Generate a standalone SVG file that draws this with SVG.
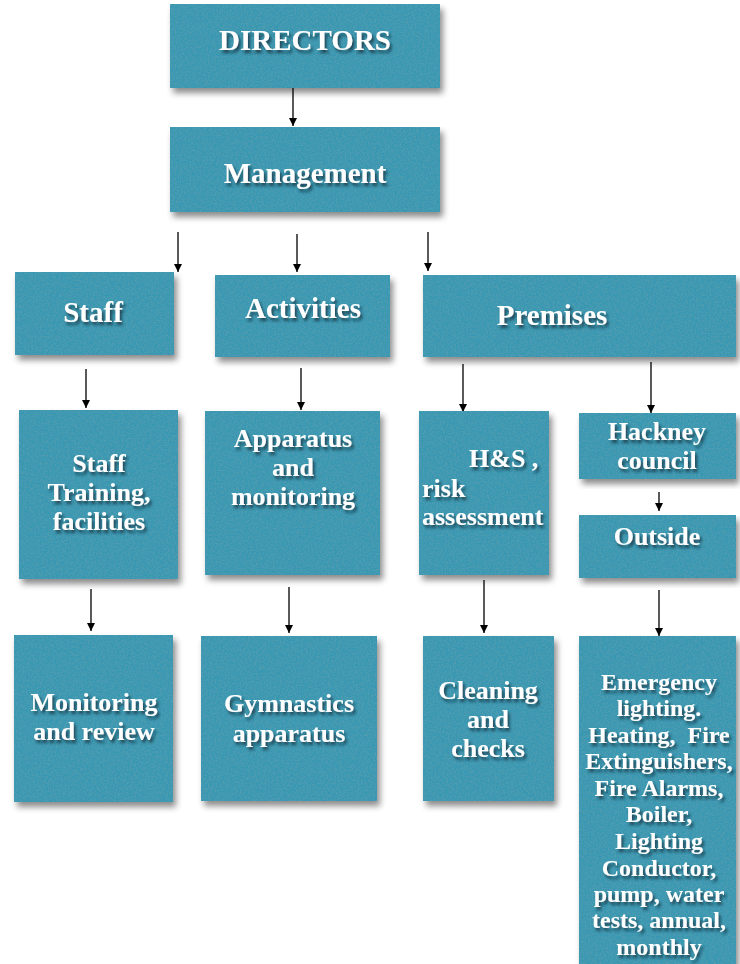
<svg xmlns="http://www.w3.org/2000/svg" width="740" height="964" viewBox="0 0 740 964">
<defs>
<style>
.box{fill:#3998b3;filter:url(#tex);}
.t{font-family:"Liberation Serif","Times New Roman",serif;font-weight:bold;fill:#ffffff;text-anchor:middle;filter:url(#ts);}
.big{font-size:29px;}
.mid{font-size:26px;}
.sm{font-size:24px;}
.st{text-anchor:start;}
.c{stroke:#000;stroke-width:1.3;fill:none;marker-end:url(#ah);}
</style>
<marker id="ah" viewBox="0 0 10 10" refX="10" refY="5" markerWidth="8" markerHeight="8" markerUnits="userSpaceOnUse" orient="auto">
<path d="M0,0 L10,5 L0,10 z" fill="#000"/>
</marker>
<filter id="tex" x="-5%" y="-5%" width="115%" height="120%">
<feTurbulence type="fractalNoise" baseFrequency="0.6" numOctaves="3" seed="4" result="n"/>
<feColorMatrix in="n" type="matrix" values="0 0 0 0 0.08  0 0 0 0 0.33  0 0 0 0 0.43  3.2 0 0 0 -1.25" result="dk"/>
<feComposite in="dk" in2="SourceGraphic" operator="in" result="dk2"/>
<feGaussianBlur in="SourceAlpha" stdDeviation="3" result="b"/>
<feOffset in="b" dx="3" dy="5" result="bo"/>
<feFlood flood-color="#000" flood-opacity="0.45"/>
<feComposite in2="bo" operator="in" result="sh"/>
<feMerge><feMergeNode in="sh"/><feMergeNode in="SourceGraphic"/><feMergeNode in="dk2"/></feMerge>
</filter>
<filter id="ts" x="-10%" y="-30%" width="130%" height="170%">
<feDropShadow dx="2" dy="3" stdDeviation="1.6" flood-color="#0b2a35" flood-opacity="0.75"/>
</filter>
</defs>

<g id="connectors">
<line class="c" x1="293" y1="88" x2="293" y2="126"/>
<line class="c" x1="178" y1="232" x2="178" y2="272"/>
<line class="c" x1="297" y1="234" x2="297" y2="272"/>
<line class="c" x1="428" y1="232" x2="428" y2="271"/>
<line class="c" x1="86" y1="369" x2="86" y2="408"/>
<line class="c" x1="301" y1="368" x2="301" y2="410"/>
<line class="c" x1="463" y1="364" x2="463" y2="412"/>
<line class="c" x1="651" y1="362" x2="651" y2="413"/>
<line class="c" x1="659" y1="492" x2="659" y2="511"/>
<line class="c" x1="91" y1="589" x2="91" y2="631"/>
<line class="c" x1="289" y1="587" x2="289" y2="633"/>
<line class="c" x1="484" y1="580" x2="484" y2="633"/>
<line class="c" x1="659" y1="590" x2="659" y2="636"/>
</g>

<g id="directors">
<rect class="box" x="170" y="4" width="270" height="84"/>
<text class="t big" x="305" y="50">DIRECTORS</text>
</g>
<g id="management">
<rect class="box" x="170" y="127" width="270" height="85"/>
<text class="t big" x="305" y="183">Management</text>
</g>
<g id="staff">
<rect class="box" x="15" y="272" width="159" height="83"/>
<text class="t big" x="93" y="322">Staff</text>
</g>
<g id="activities">
<rect class="box" x="215" y="275" width="175" height="82"/>
<text class="t big" x="303" y="318">Activities</text>
</g>
<g id="premises">
<rect class="box" x="423" y="275" width="313" height="82"/>
<text class="t big" x="552" y="325">Premises</text>
</g>
<g id="staff-training">
<rect class="box" x="19" y="410" width="159" height="169"/>
<text class="t mid" x="99" y="472">Staff</text>
<text class="t mid" x="99" y="501">Training,</text>
<text class="t mid" x="99" y="530">facilities</text>
</g>
<g id="apparatus">
<rect class="box" x="205" y="411" width="175" height="164"/>
<text class="t mid" x="293" y="447">Apparatus</text>
<text class="t mid" x="293" y="476">and</text>
<text class="t mid" x="293" y="505">monitoring</text>
</g>
<g id="hs">
<rect class="box" x="419" y="411" width="130" height="164"/>
<text class="t mid st" x="469" y="467">H&amp;S ,</text>
<text class="t mid st" x="422" y="497">risk</text>
<text class="t mid st" x="422" y="525">assessment</text>
</g>
<g id="hackney">
<rect class="box" x="579" y="413" width="157" height="66"/>
<text class="t mid" x="657" y="440">Hackney</text>
<text class="t mid" x="657" y="469">council</text>
</g>
<g id="outside">
<rect class="box" x="579" y="515" width="157" height="63"/>
<text class="t mid" x="657" y="545">Outside</text>
</g>
<g id="monitoring">
<rect class="box" x="14" y="635" width="159" height="167"/>
<text class="t mid" x="94" y="711">Monitoring</text>
<text class="t mid" x="94" y="740">and review</text>
</g>
<g id="gymnastics">
<rect class="box" x="201" y="636" width="176" height="165"/>
<text class="t mid" x="289" y="712">Gymnastics</text>
<text class="t mid" x="289" y="742">apparatus</text>
</g>
<g id="cleaning">
<rect class="box" x="423" y="636" width="131" height="165"/>
<text class="t mid" x="488" y="699">Cleaning</text>
<text class="t mid" x="488" y="728">and</text>
<text class="t mid" x="488" y="757">checks</text>
</g>
<g id="emergency">
<rect class="box" x="579" y="636" width="157" height="340"/>
<text class="t sm" x="659" y="690">Emergency</text>
<text class="t sm" x="659" y="716">lighting.</text>
<text class="t sm" x="659" y="743" xml:space="preserve">Heating,  Fire</text>
<text class="t sm" x="659" y="769">Extinguishers,</text>
<text class="t sm" x="659" y="796">Fire Alarms,</text>
<text class="t sm" x="659" y="822">Boiler,</text>
<text class="t sm" x="659" y="849">Lighting</text>
<text class="t sm" x="659" y="876">Conductor,</text>
<text class="t sm" x="659" y="902">pump, water</text>
<text class="t sm" x="659" y="928">tests, annual,</text>
<text class="t sm" x="659" y="955">monthly</text>
</g>
</svg>
